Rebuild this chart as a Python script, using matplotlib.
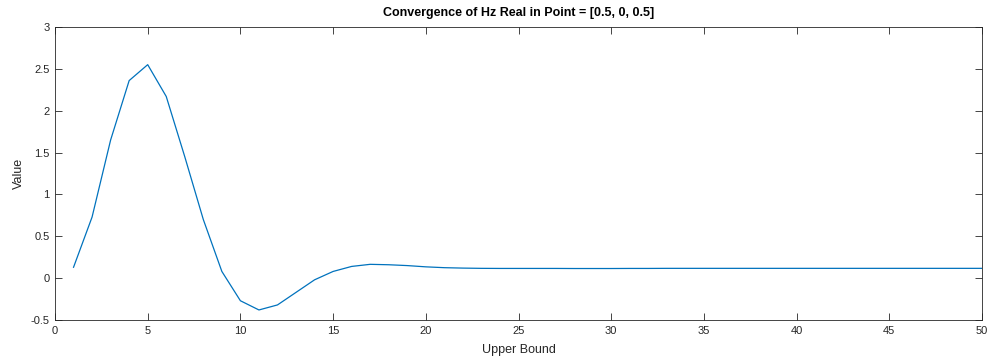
import matplotlib
matplotlib.use("Agg")
import matplotlib.pyplot as plt

upper_bound = list(range(1, 51))
value = [0.13, 0.73, 1.65, 2.36, 2.55, 2.17, 1.45, 0.70, 0.08, -0.27,
         -0.38, -0.32, -0.17, -0.02, 0.08, 0.14, 0.165, 0.16, 0.15, 0.135,
         0.125, 0.12, 0.117, 0.116, 0.116, 0.116, 0.116, 0.115, 0.115, 0.115,
         0.116, 0.116, 0.117, 0.117, 0.117, 0.117, 0.117, 0.117, 0.117, 0.117,
         0.117, 0.117, 0.117, 0.117, 0.117, 0.117, 0.117, 0.117, 0.117, 0.117]

plt.rcParams["font.family"] = ["Liberation Sans", "DejaVu Sans"]
dark = "#262626"

fig = plt.figure(figsize=(9.97, 3.63), dpi=100)
ax = fig.add_axes([55 / 997, 43 / 363, 927 / 997, 293 / 363])
ax.plot(upper_bound, value, color="#0072BD", linewidth=0.9)

ax.set_xlim(0, 50)
ax.set_ylim(-0.5, 3)
ax.set_xticks(range(0, 51, 5))
ax.set_yticks([-0.5, 0, 0.5, 1, 1.5, 2, 2.5, 3])
ax.set_yticklabels(["-0.5", "0", "0.5", "1", "1.5", "2", "2.5", "3"])
ax.tick_params(direction="in", top=True, right=True, length=5, width=0.6,
               colors=dark, labelsize=8, pad=4)
for s in ax.spines.values():
    s.set_color(dark)
    s.set_linewidth(0.6)

ax.set_xlabel("Upper Bound", fontsize=9, color=dark, labelpad=6)
ax.set_ylabel("Value", fontsize=9, color=dark, labelpad=4)
ax.set_title("Convergence of Hz Real in Point = [0.5, 0, 0.5]", fontsize=9,
             fontweight="bold", color="black", pad=8)

fig.savefig("out.png", dpi=100)
